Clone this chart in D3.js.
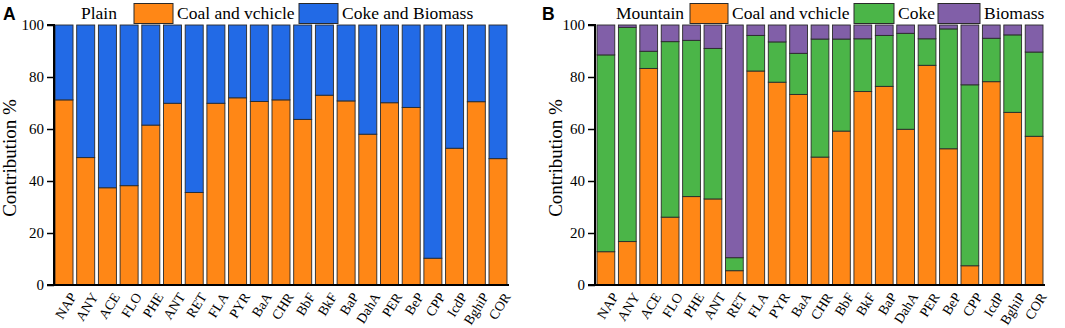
<!DOCTYPE html>
<html><head><meta charset="utf-8">
<script src="https://cdn.jsdelivr.net/npm/d3@7"></script>
<style>body{margin:0;background:#fff}svg{display:block}</style>
</head><body><svg id="c" width="1065" height="328" font-family="Liberation Serif"></svg>
<script>
const categories = ["NAP","ANY","ACE","FLO","PHE","ANT","RET","FLA","PYR","BaA","CHR","BbF","BkF","BaP","DahA","PER","BeP","CPP","IcdP","BghiP","COR"];
// Panel A: Plain
const plainCoalVehicle = [71.2,49,37.4,38.2,61.5,69.9,35.6,69.9,72,70.6,71.2,63.7,73,70.8,58,70.1,68.3,10.3,52.6,70.5,48.6];
const plainCokeBiomass = plainCoalVehicle.map(v => 100 - v);
// Panel B: Mountain
const mtnCoalVehicle = [12.8,16.7,83.3,26.1,34,33.1,5.5,82.3,78,73.3,49.2,59.2,74.4,76.4,59.9,84.5,52.4,7.4,78.2,66.4,57.2];
const mtnCoke = [75.7,82.4,6.6,67.5,60.1,57.9,5.0,13.7,15.5,15.8,45.4,35.4,20.3,19.6,36.9,10.2,46.1,69.6,16.7,29.8,32.4];
const mtnBiomass = mtnCoalVehicle.map((v,i) => Math.max(0, 100 - v - mtnCoke[i]));
const yTicks = [0,20,40,60,80,100];

const SERIF = "Liberation Serif";
const colors = {coal:"#ff8716", cokeBio:"#226ae6", coke:"#4bb548", bio:"#815fa8"};
const svg = d3.select("#c");

function panel(opt){
  const g = svg.append("g").attr("font-family",SERIF);
  const y = d3.scaleLinear().domain([0,100]).range([285,25]);
  const x = d3.scaleBand().domain(categories).range([opt.x0, opt.x1]).paddingInner(0.17).paddingOuter(0);
  const keys = opt.series.map(s=>s.key);
  const rows = categories.map((c,i)=>{const r={cat:c}; opt.series.forEach(s=>r[s.key]=s.values[i]); return r;});
  const stack = d3.stack().keys(keys)(rows);
  stack.forEach((layer,li)=>{
    g.append("g").selectAll("rect").data(layer).join("rect")
      .attr("x", d=>x(d.data.cat)).attr("width", x.bandwidth())
      .attr("y", d=>y(d[1])).attr("height", d=>y(d[0])-y(d[1]))
      .attr("fill", opt.series[li].color).attr("stroke","#2a2a2a").attr("stroke-width",0.9);
  });
  // y axis
  const ya = g.append("g").attr("transform",`translate(${opt.ax},0)`)
    .call(d3.axisLeft(y).tickValues(yTicks).tickSize(7).tickPadding(3));
  ya.attr("font-family",SERIF).attr("font-size",15);
  ya.select(".domain").attr("stroke","#000").attr("stroke-width",2).attr("d",`M-7,${y(100)}H0V${y(0)}`);
  ya.selectAll(".tick line").attr("stroke","#000").attr("stroke-width",1.5);
  ya.selectAll(".tick text").attr("fill","#000");
  // x axis line
  g.append("line").attr("x1",opt.ax-7).attr("x2",opt.x1+2).attr("y1",285).attr("y2",285).attr("stroke","#000").attr("stroke-width",2);
  // x labels
  g.append("g").selectAll("text").data(categories).join("text")
    .attr("transform", d=>`translate(${x(d)+x.bandwidth()/2+9},294) rotate(-58)`)
    .attr("text-anchor","end").attr("dy","0.35em").attr("font-size",13.8).text(d=>d);
  // y title
  g.append("text").attr("transform",`translate(${opt.titleYX},158) rotate(-90)`)
    .attr("text-anchor","middle").attr("font-size",19).text("Contribution %");
  // panel letter
  g.append("text").attr("x",opt.letterX).attr("y",19.5).attr("font-family","Liberation Sans").attr("font-weight","bold").attr("font-size",17.5).text(opt.letter);
  // legend
  g.append("text").attr("x",opt.titleX).attr("y",19).attr("font-size",17.5).text(opt.title);
  opt.legend.forEach(l=>{
    g.append("rect").attr("x",l.x).attr("y",3.5).attr("width",l.w).attr("height",20).attr("fill",l.color).attr("stroke","#2a2a2a").attr("stroke-width",1);
    g.append("text").attr("x",l.x+l.w+4).attr("y",19).attr("font-size",17.5).text(l.label);
  });
}

panel({x0:55,x1:507,ax:54,titleYX:16,letter:"A",letterX:3,title:"Plain",titleX:81,
  series:[{key:"coal",values:plainCoalVehicle,color:colors.coal},{key:"cb",values:plainCokeBiomass,color:colors.cokeBio}],
  legend:[{x:134,w:39,color:colors.coal,label:"Coal and vchicle"},{x:299,w:39,color:colors.cokeBio,label:"Coke and Biomass"}]});
panel({x0:597,x1:1043,ax:595,titleYX:562,letter:"B",letterX:542,title:"Mountain",titleX:616,
  series:[{key:"coal",values:mtnCoalVehicle,color:colors.coal},{key:"coke",values:mtnCoke,color:colors.coke},{key:"bio",values:mtnBiomass,color:colors.bio}],
  legend:[{x:690,w:38,color:colors.coal,label:"Coal and vchicle"},{x:854,w:40,color:colors.coke,label:"Coke"},{x:938,w:42,color:colors.bio,label:"Biomass"}]});
</script></body></html>
